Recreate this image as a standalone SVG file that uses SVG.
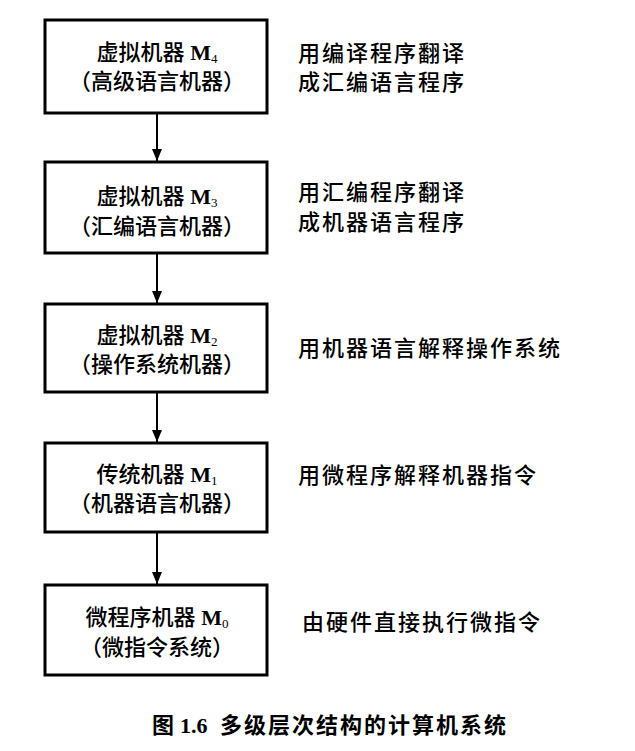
<svg xmlns="http://www.w3.org/2000/svg" width="635" height="751" viewBox="0 0 635 751">
<style>
.box{fill:#fff;stroke:#000;stroke-width:3}
.bt{font-family:"Liberation Serif","Noto Sans CJK SC",serif;font-size:22px;fill:#000;text-anchor:middle;font-weight:500}
.m{font-family:"Liberation Serif",serif;font-weight:bold}
.sub{font-family:"Liberation Serif",serif;font-size:13px}
.rt{font-family:"Noto Sans CJK SC",sans-serif;font-size:22px;letter-spacing:2px;fill:#000;font-weight:500}
.cap{font-family:"Noto Sans CJK SC",sans-serif;font-size:22px;font-weight:bold;fill:#000}
.conn{stroke:#000;stroke-width:2;fill:none}
</style>
<defs>
<marker id="ah" markerUnits="userSpaceOnUse" markerWidth="12" markerHeight="14" viewBox="0 0 12 14" refX="6" refY="13" orient="auto-start-reverse">
<path d="M0,0 L12,0 L6,13 Z" fill="#000" transform="rotate(-90 6 7)"/>
</marker>
<marker id="ah2" markerUnits="userSpaceOnUse" markerWidth="12" markerHeight="14" viewBox="0 0 12 14" refX="12" refY="6" orient="auto">
<path d="M0,1 L12,6 L0,11 Z" fill="#000"/>
</marker>
</defs>
<rect width="635" height="751" fill="#fff"/>
<g id="connectors">
<path class="conn" d="M157,113 V161" marker-end="url(#ah2)"/>
<path class="conn" d="M157,253 V303" marker-end="url(#ah2)"/>
<path class="conn" d="M157,392 V442" marker-end="url(#ah2)"/>
<path class="conn" d="M157,532 V584" marker-end="url(#ah2)"/>
</g>
<g id="m4">
<rect class="box" x="45" y="20" width="222" height="93"/>
<text class="bt" x="157" y="60">虚拟机器 <tspan class="m">M</tspan><tspan class="sub" dy="3">4</tspan></text>
<text class="bt" x="157" y="89">（高级语言机器）</text>
<text class="rt" x="298" y="61">用编译程序翻译</text>
<text class="rt" x="298" y="90">成汇编语言程序</text>
</g>
<g id="m3">
<rect class="box" x="45" y="162" width="222" height="91"/>
<text class="bt" x="157" y="204">虚拟机器 <tspan class="m">M</tspan><tspan class="sub" dy="3">3</tspan></text>
<text class="bt" x="157" y="234">（汇编语言机器）</text>
<text class="rt" x="298" y="200">用汇编程序翻译</text>
<text class="rt" x="298" y="230">成机器语言程序</text>
</g>
<g id="m2">
<rect class="box" x="45" y="304" width="222" height="88"/>
<text class="bt" x="157" y="343">虚拟机器 <tspan class="m">M</tspan><tspan class="sub" dy="3">2</tspan></text>
<text class="bt" x="157" y="372">（操作系统机器）</text>
<text class="rt" x="298" y="356">用机器语言解释操作系统</text>
</g>
<g id="m1">
<rect class="box" x="45" y="443" width="222" height="89"/>
<text class="bt" x="157" y="482">传统机器 <tspan class="m">M</tspan><tspan class="sub" dy="3">1</tspan></text>
<text class="bt" x="157" y="511">（机器语言机器）</text>
<text class="rt" x="298" y="483">用微程序解释机器指令</text>
</g>
<g id="m0">
<rect class="box" x="45" y="585" width="222" height="90"/>
<text class="bt" x="157" y="625">微程序机器 <tspan class="m">M</tspan><tspan class="sub" dy="3">0</tspan></text>
<text class="bt" x="157" y="655">（微指令系统）</text>
<text class="rt" x="302" y="630">由硬件直接执行微指令</text>
</g>
<text class="cap" y="733"><tspan x="152">图</tspan><tspan x="180" font-family="Liberation Serif,serif" font-weight="bold">1.6</tspan><tspan x="220" letter-spacing="2">多级层次结构的计算机系统</tspan></text>
</svg>
